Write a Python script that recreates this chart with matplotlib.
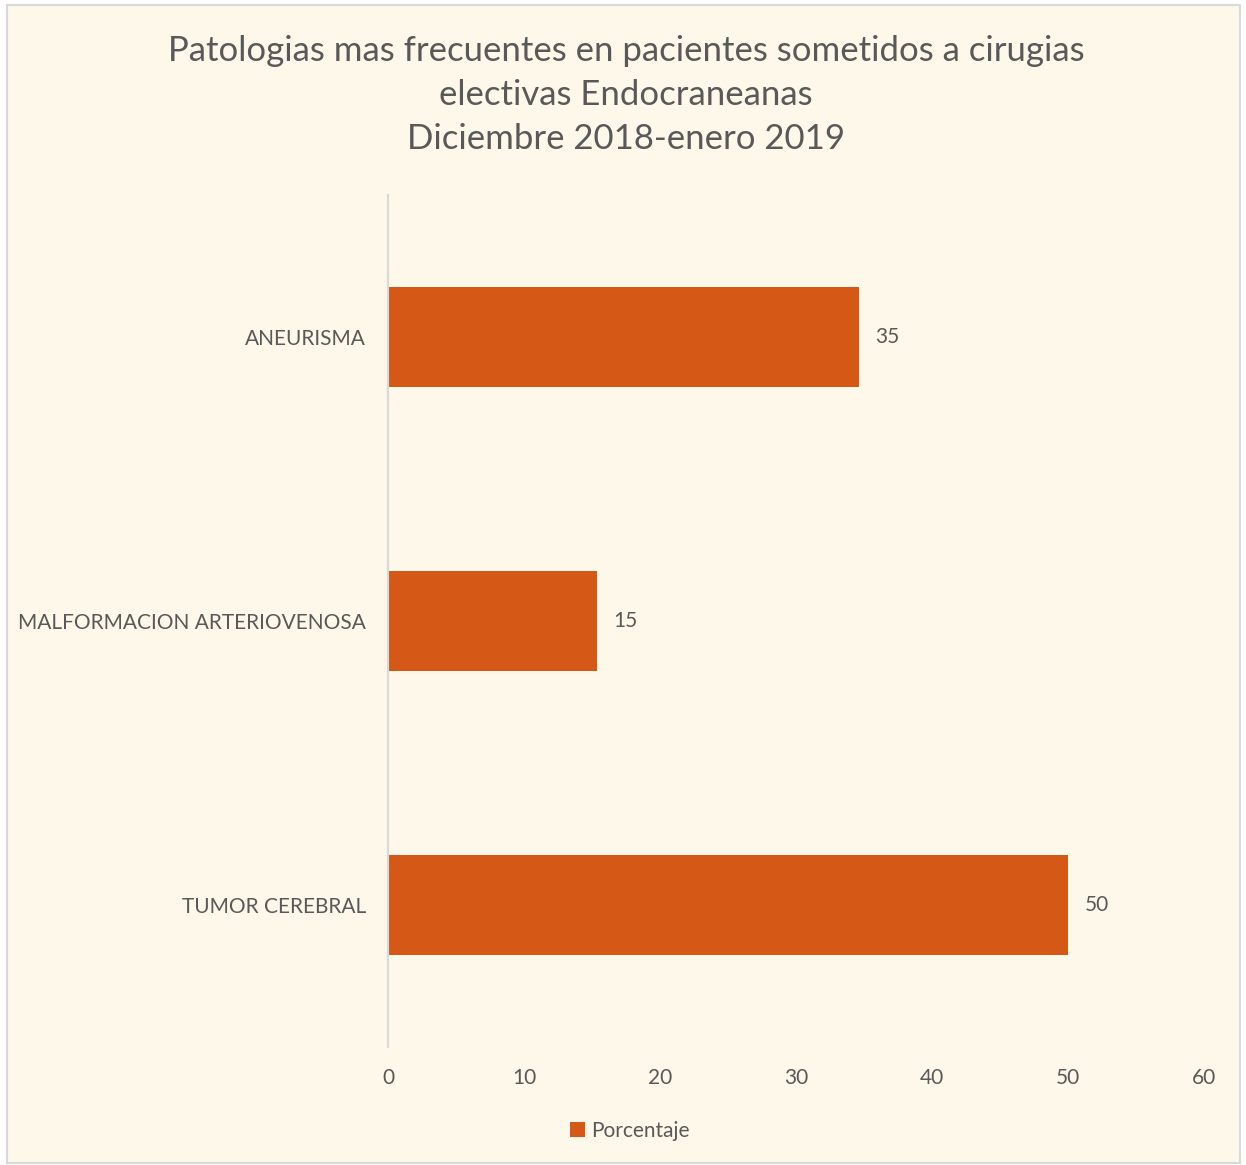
import matplotlib.pyplot as plt
from matplotlib.patches import Rectangle

# Chart data
categories = ["TUMOR CEREBRAL", "MALFORMACION ARTERIOVENOSA", "ANEURISMA"]
values = [50.0, 15.4, 34.6]
series_name = "Porcentaje"
x_ticks = [0, 10, 20, 30, 40, 50, 60]
title = ("Patologias mas frecuentes en pacientes sometidos a cirugias\n"
         "electivas Endocraneanas\n"
         "Diciembre 2018-enero 2019")

bg = "#FEF8EA"
bar_color = "#D55816"
text_color = "#595959"

plt.rcParams['font.family'] = ['Lato', 'DejaVu Sans']

fig = plt.figure(figsize=(12.46, 11.65), dpi=100)
fig.patch.set_facecolor("white")

# chart area frame
frame = Rectangle((7 / 1246, 1 - 1163 / 1165), (1240 - 7) / 1246, (1163 - 5) / 1165,
                  transform=fig.transFigure, facecolor=bg, edgecolor="#D9D9D9",
                  linewidth=1.5, zorder=0)
fig.patches.append(frame)

ax = fig.add_axes([388 / 1246, 1 - 1047 / 1165, (1204 - 388) / 1246, (1047 - 195) / 1165])
ax.set_facecolor("none")
ax.set_zorder(2)

ypos = range(len(categories))
bars = ax.barh(ypos, values, height=0.35, color=bar_color, label=series_name, zorder=2)

for b, v in zip(bars, values):
    ax.text(b.get_width() + 1.2, b.get_y() + b.get_height() / 2, f"{v:.0f}",
            va="center", ha="left", fontsize=15, color=text_color)

ax.set_xlim(0, 60)
ax.set_ylim(-0.5, len(categories) - 0.5)
ax.set_xticks(x_ticks)
ax.set_xticklabels([str(t) for t in x_ticks])
ax.set_yticks(list(ypos))
ax.set_yticklabels(categories)
ax.tick_params(axis="both", length=0, labelsize=15, labelcolor=text_color)
ax.tick_params(axis="x", pad=15)
ax.tick_params(axis="y", pad=16)

for s in ["top", "right", "bottom"]:
    ax.spines[s].set_visible(False)
ax.spines["left"].set_color("#D9D9D9")
ax.spines["left"].set_linewidth(1.5)

fig.text(626 / 1246, 1 - 95 / 1165, title, ha="center", va="center",
         fontsize=25, color=text_color, linespacing=1.45)

fig.legend(loc="center", bbox_to_anchor=(630 / 1246, 1 - 1131 / 1165), frameon=False,
           fontsize=15, labelcolor=text_color, handlelength=0.7, handleheight=0.7,
           handletextpad=0.3)

fig.savefig("out.png", dpi=100, facecolor=fig.get_facecolor())
